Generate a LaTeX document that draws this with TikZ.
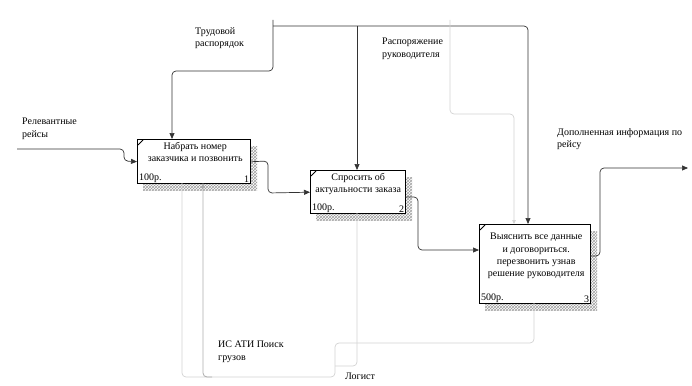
\documentclass[tikz,border=0pt]{standalone}
\usepackage{fontspec}
\setmainfont{Liberation Serif}
\usetikzlibrary{arrows.meta,patterns}
\begin{document}
\begin{tikzpicture}[x=1pt,y=-1pt,
  font=\fontsize{10}{12.3}\selectfont,
  box/.style={draw=black, line width=1.4pt, fill=white, anchor=north west, inner sep=0pt},
  shadowbox/.style={pattern=crosshatch, pattern color=gray!75, draw=none},
  lbl/.style={align=left, anchor=north west, inner sep=0pt},
  btxt/.style={align=center, anchor=north, inner sep=0pt},
  cost/.style={anchor=south west, inner sep=0pt},
  num/.style={anchor=south east, inner sep=0pt},
  flow/.style={draw=black!80, line width=0.7pt, rounded corners=4pt},
  arr/.style={flow, -{Triangle[length=6pt,width=5pt]}},
  light/.style={draw=gray!35, line width=0.7pt, rounded corners=4pt},
  larr/.style={light, -{Triangle[length=4pt,width=3.5pt]}},
  mid/.style={draw=gray!65, line width=0.8pt, rounded corners=4pt},
  marr/.style={mid, -{Triangle[length=5pt,width=4pt]}},
  corner/.style={draw=black, line width=0.8pt}
]
\useasboundingbox (0,0) rectangle (692,385);

% shadows
\fill[shadowbox] (143,146) rectangle (257,190);
\fill[shadowbox] (316,177) rectangle (412,220);
\fill[shadowbox] (485,231) rectangle (597,310);

% boxes
\node[box, minimum width=113pt, minimum height=44pt] (b1) at (137,139) {};
\node[box, minimum width=95pt, minimum height=43pt] (b2) at (310,170) {};
\node[box, minimum width=111pt, minimum height=79pt] (b3) at (479,224) {};

\draw[corner] ([shift={(1,6)}]b1.north west) -- ([shift={(6,1)}]b1.north west);
\draw[corner] ([shift={(1,6)}]b2.north west) -- ([shift={(6,1)}]b2.north west);
\draw[corner] ([shift={(1,6)}]b3.north west) -- ([shift={(6,1)}]b3.north west);

\node[btxt] (t1) at ([shift={(1,3)}]b1.north) {Набрать номер\\заказчика и позвонить};
\node[cost] (c1) at ([shift={(2,-2)}]b1.south west) {100р.};
\node[num] (n1) at ([shift={(-2,-2)}]b1.south east) {1};

\node[btxt] (t2) at ([shift={(0,3)}]b2.north) {Спросить об\\актуальности заказа};
\node[cost] (c2) at ([shift={(2,-2)}]b2.south west) {100р.};
\node[num] (n2) at ([shift={(-2,-2)}]b2.south east) {2};

\node[btxt] (t3) at ([shift={(1,9)}]b3.north) {Выяснить все данные\\и договориться.\\перезвонить узнав\\решение руководителя};
\node[cost] (c3) at ([shift={(2,-2)}]b3.south west) {500р.};
\node[num] (n3) at ([shift={(-2,-2)}]b3.south east) {3};

% coordinates
\coordinate (inA) at (17,149);
\coordinate (ctlTop) at (273,20);
\coordinate (ctlLine) at (273,26);
\coordinate (lightTop) at (450,20);
\coordinate (outEnd) at (688,168);
\coordinate (b2out) at (405,197);
\coordinate (b3in) at (479,250);
\coordinate (b3out) at (590,256);
\coordinate (b3top) at (528,224);
\coordinate (b3topL) at (514,224);
\coordinate (b2top) at (357,170);
\coordinate (b1top) at (172,139);
\coordinate (b1botL) at (182,183);
\coordinate (b1botM) at (203,183);
\coordinate (b2bot) at (357,213);
\coordinate (b3bot) at (534,303);
\coordinate (mBase) at (212,377);

% connectors
\draw[arr] (inA) -- (124,149) -- (124,161) -- (b1.west);
\draw[arr] (b1.east) -- (268,161) -- (268,193) -- (b2.west);
\draw[arr] (b2out) -- (418,197) -- (418,250) -- (b3in);
\draw[arr] (b3out) -- (600,256) -- (600,168) -- (outEnd);

\draw[arr] (ctlTop) -- (273,71) -- (b1top |- 0,71) -- (b1top);
\draw[arr] (ctlLine) -- (528,26) -- (b3top);
\draw[arr] (357,26) -- (b2top);
\draw[larr] (lightTop) -- (450,114) -- (514,114) -- (b3topL);

\draw[light] (b1botL) -- (182,377) -- (335,377) -- (335,343) -- (534,343) -- (b3bot);
\draw[light] (b2bot) -- (357,366) -- (335,366);
\draw[marr] (mBase) -- (203,377) -- (b1botM);

% labels
\node[lbl] (lRel) at (22,118) {Релевантные\\рейсы};
\node[lbl] (lTrud) at (195,27) {Трудовой\\распорядок};
\node[lbl] (lRasp) at (382,38) {Распоряжение\\руководителя};
\node[lbl] (lDop) at (557,128) {Дополненная информация по\\рейсу};
\node[lbl] (lIS) at (218,341) {ИС АТИ Поиск\\грузов};
\node[lbl] (lLog) at (345,373) {Логист};
\end{tikzpicture}
\end{document}
